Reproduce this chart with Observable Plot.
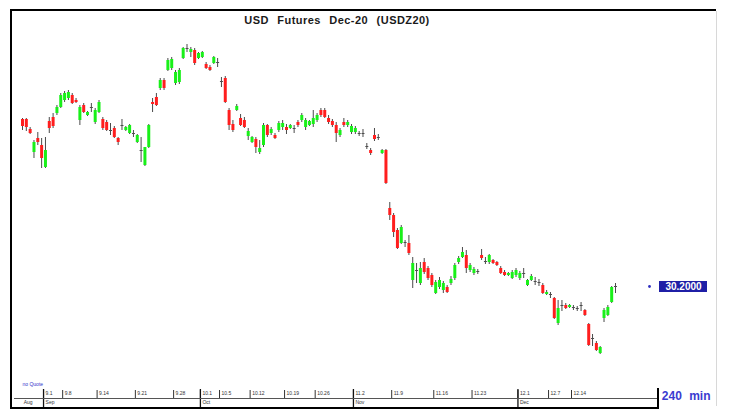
<!DOCTYPE html>
<html><head><meta charset="utf-8">
<script src="https://cdn.jsdelivr.net/npm/d3@7"></script>
<script src="https://cdn.jsdelivr.net/npm/@observablehq/plot@0.6"></script>
<style>
html,body{margin:0;padding:0;background:#fff;}
#wrap{position:relative;width:733px;height:413px;overflow:hidden;font-family:"Liberation Sans",Arial,sans-serif;}
#wrap svg{position:absolute;left:0;top:0;}
.ln{position:absolute;background:#000;pointer-events:none;}
</style></head><body>
<div id="wrap"></div>
<script>
const title = "USD Futures Dec-20 (USDZ20)";
const open = [31.87,31.87,31.77,31.54,31.68,31.61,31.39,31.85,31.89,31.93,31.99,32.06,32.08,32.11,32.06,31.86,32.01,31.91,31.99,31.84,31.94,31.87,31.84,31.76,31.78,31.68,31.81,31.76,31.73,31.73,31.64,31.56,31.41,31.59,
32.04,32.09,32.18,32.26,32.36,32.38,32.23,32.24,32.48,32.57,32.54,32.56,32.48,32.49,32.42,32.39,32.43,32.44,32.24,32.28,31.96,31.82,31.96,31.88,31.86,
31.70,31.64,31.67,31.54,31.61,31.81,31.73,31.71,31.76,31.79,31.79,31.78,31.78,31.84,31.86,31.79,31.81,31.82,31.86,31.96,31.96,31.88,31.85,31.81,31.71,31.84,31.81,31.74,31.74,31.73,31.73,31.60,31.56,31.71,31.69,31.53,31.56,
30.98,30.91,30.76,30.63,30.64,30.63,30.26,30.36,30.23,30.44,30.38,30.31,30.13,30.19,30.16,30.19,30.23,30.28,30.44,30.49,
30.51,30.36,30.33,30.35,30.51,30.45,30.44,30.46,30.44,30.38,30.34,30.31,30.28,30.31,30.28,30.33,30.21,30.26,30.25,30.24,30.21,30.12,30.12,30.08,29.83,30.01,30.01,29.99,29.99,29.98,30.01,29.96,29.82,29.68,29.63,29.53,29.88,29.91,30.04,30.19];
const high = [31.88,31.88,31.79,31.66,31.74,31.68,31.69,31.89,31.93,32.01,32.13,32.15,32.16,32.13,32.08,32.01,32.03,31.95,32.03,31.98,32.06,31.89,31.86,31.83,31.80,31.69,31.87,31.80,31.82,31.76,31.72,31.69,31.59,31.82,
32.08,32.13,32.28,32.28,32.48,32.49,32.36,32.38,32.59,32.62,32.59,32.58,32.54,32.55,32.44,32.41,32.50,32.48,32.29,32.30,31.98,31.86,32.02,31.92,31.89,
31.78,31.70,31.69,31.66,31.83,31.82,31.79,31.73,31.85,31.86,31.82,31.82,31.81,31.86,31.93,31.88,31.86,31.96,31.93,31.98,31.98,31.91,31.87,31.84,31.78,31.88,31.86,31.82,31.80,31.75,31.77,31.63,31.58,31.78,31.72,31.57,31.57,
31.04,30.93,30.78,30.81,30.66,30.71,30.49,30.43,30.44,30.48,30.40,30.33,30.26,30.29,30.25,30.21,30.30,30.43,30.50,30.59,
30.56,30.43,30.39,30.37,30.57,30.49,30.52,30.47,30.45,30.40,30.36,30.34,30.36,30.38,30.35,30.38,30.27,30.32,30.29,30.27,30.23,30.16,30.14,30.09,30.06,30.06,30.03,30.02,30.01,30.00,30.04,29.97,29.83,29.72,29.65,29.60,29.98,30.01,30.20,30.23];
const low = [31.76,31.75,31.72,31.48,31.61,31.38,31.38,31.73,31.78,31.91,31.98,32.04,32.06,32.02,32.03,31.81,31.93,31.90,31.94,31.82,31.93,31.76,31.75,31.71,31.68,31.61,31.76,31.75,31.72,31.69,31.63,31.44,31.40,31.58,
31.94,32.00,32.16,32.16,32.35,32.36,32.21,32.22,32.47,32.54,32.49,32.41,32.47,32.48,32.37,32.35,32.42,32.39,32.19,32.03,31.76,31.74,31.95,31.80,31.78,
31.66,31.63,31.53,31.52,31.59,31.69,31.71,31.67,31.74,31.76,31.72,31.77,31.73,31.79,31.84,31.76,31.80,31.79,31.84,31.89,31.88,31.82,31.79,31.64,31.69,31.79,31.79,31.72,31.72,31.70,31.69,31.57,31.51,31.65,31.66,31.52,31.22,
30.86,30.69,30.57,30.62,30.59,30.51,30.18,30.23,30.21,30.32,30.26,30.19,30.12,30.17,30.13,30.13,30.21,30.26,30.42,30.48,
30.33,30.34,30.31,30.32,30.46,30.42,30.42,30.42,30.40,30.32,30.30,30.30,30.27,30.29,30.26,30.28,30.20,30.25,30.21,30.20,30.12,30.11,30.08,29.87,29.81,29.95,29.97,29.98,29.96,29.95,29.95,29.90,29.60,29.60,29.55,29.52,29.84,29.90,30.03,30.13];
const close = [31.80,31.79,31.73,31.64,31.64,31.48,31.56,31.78,31.80,31.99,32.11,32.13,32.14,32.03,32.04,31.99,31.94,31.94,31.98,31.96,32.04,31.78,31.76,31.75,31.69,31.64,31.80,31.79,31.81,31.72,31.71,31.55,31.59,31.81,
32.02,32.01,32.26,32.18,32.46,32.47,32.34,32.36,32.58,32.58,32.57,32.43,32.53,32.54,32.38,32.36,32.49,32.43,32.25,32.04,31.81,31.76,32.00,31.81,31.79,
31.75,31.69,31.59,31.58,31.81,31.71,31.77,31.68,31.83,31.83,31.76,31.81,31.77,31.81,31.91,31.86,31.85,31.88,31.91,31.91,31.89,31.84,31.81,31.73,31.76,31.81,31.84,31.80,31.78,31.72,31.72,31.59,31.53,31.67,31.68,31.56,31.23,
30.91,30.74,30.58,30.79,30.63,30.53,30.43,30.35,30.38,30.34,30.28,30.21,30.24,30.26,30.23,30.14,30.27,30.41,30.48,30.54,
30.38,30.41,30.37,30.34,30.48,30.44,30.51,30.43,30.41,30.33,30.31,30.33,30.34,30.36,30.33,30.32,30.26,30.30,30.24,30.23,30.13,30.14,30.11,29.88,29.98,30.00,29.98,30.01,29.98,29.97,30.00,29.91,29.61,29.67,29.56,29.59,29.96,29.99,30.19,30.20];

// bottom time axis (positions in bar-index units)
const weekTicks = [5.5,10.5,19.5,29.5,39.5,46.5,51.5,59.5,68.5,76.5,86.5,96.5,107.5,117.5,129.5,137.5,143.5];
const weekLabels = ["9.1","9.8","9.14","9.21","9.28","10.1","10.5","10.12","10.19","10.26","11.2","11.9","11.16","11.23","12.1","12.7","12.14"];
const monthStarts = [-0.2,5.5,46.5,86.5,129.5];
const monthLabels = ["Aug","Sep","Oct","Nov","Dec"];
const lastLabel = "30.2000";
const intervalLabel = "240 min";
const noQuote = "no Quote";

const N = close.length;
const bars = d3.range(N).map(i => ({i, o: open[i], h: high[i], l: low[i], c: close[i]}));
const bodyColor = d => Math.abs(d.c - d.o) < 0.015 ? "#4d4d4d" : (d.c > d.o ? "#19f019" : "#ff1e1e");
const weeks = weekTicks.map((x, k) => ({x, label: weekLabels[k]}));
const months = monthStarts.map((x, k) => ({x, label: monthLabels[k]}));
const last = [close[N - 1]];

const chart = Plot.plot({
  width: 733, height: 413,
  marginTop: 0, marginRight: 0, marginBottom: 0, marginLeft: 0,
  style: {background: "transparent", fontFamily: "'Liberation Sans', Arial, sans-serif"},
  x: {type: "linear", domain: [0, N - 1], range: [22, 615], axis: null},
  y: {domain: [29.06, 33.06], range: [400, 0], axis: null},
  color: {type: "identity"},
  marks: [
    Plot.text([title], {frameAnchor: "top", dx: -30, dy: 16, fontWeight: "bold", fontSize: 11, fill: "#1a1a1a", text: d => d}),
    Plot.ruleX(bars, {x: "i", y1: "l", y2: "h", stroke: "#4a4a4a", strokeWidth: 1}),
    Plot.ruleX(bars, {x: "i", y1: "o", y2: "c", stroke: bodyColor, strokeWidth: 3}),
    Plot.tickY(last, {y: d => d, insetLeft: 659, insetRight: 26, stroke: "#1f1fa6", strokeWidth: 11}),
    Plot.text(last, {y: d => d, text: () => lastLabel, frameAnchor: "right", dx: -50, textAnchor: "middle", fill: "white", fontWeight: "bold", fontSize: 10}),
    Plot.dot(last, {y: d => d, frameAnchor: "right", dx: -84, r: 1.4, fill: "#3030c0", stroke: null}),
    Plot.text([noQuote], {text: d => d, frameAnchor: "bottom-left", dx: 22, dy: -28, fontSize: 5, fill: "#3333cc", textAnchor: "start"}),
    Plot.ruleX(weeks, {x: "x", insetTop: 390, insetBottom: 15, stroke: "#333", strokeWidth: 1}),
    Plot.ruleX(months.slice(1), {x: "x", insetTop: 389, insetBottom: 4, stroke: "#111", strokeWidth: 1.3}),
    Plot.text(weeks, {x: "x", text: "label", frameAnchor: "bottom", dy: -19, dx: 2, fontSize: 5, fill: "#333", textAnchor: "start"}),
    Plot.text(months, {x: "x", text: "label", frameAnchor: "bottom", dy: -10, dx: 2, fontSize: 5, fill: "#333", textAnchor: "start"}),
    Plot.text([intervalLabel], {text: d => d, frameAnchor: "bottom-right", dx: -23, dy: -14, textAnchor: "end", fontSize: 12, fontWeight: "bold", fill: "#3b3bd0"})
  ]
});
// letter / word spacing for title and interval label
d3.select(chart).selectAll("text").each(function() {
  const t = this.textContent;
  if (t === title) this.style.cssText += "letter-spacing:0.45px;word-spacing:5px;";
  if (t === intervalLabel) this.style.cssText += "word-spacing:4px;";
});
const wrap = document.getElementById("wrap");
wrap.appendChild(chart);
const lines = [
  "left:10px;top:9px;width:706px;height:2px",
  "left:10px;top:9px;width:2px;height:400px",
  "left:14px;top:398px;width:644px;height:1px;background:#555",
  "left:12px;top:407px;width:646px;height:2px",
  "left:657px;top:388px;width:1.5px;height:21px",
  "left:716px;top:11px;width:1px;height:395px;background:#d8d8d8"
];
for (const s of lines) { const d = document.createElement("div"); d.className = "ln"; d.style.cssText = s; wrap.appendChild(d); }
</script>
</body></html>
